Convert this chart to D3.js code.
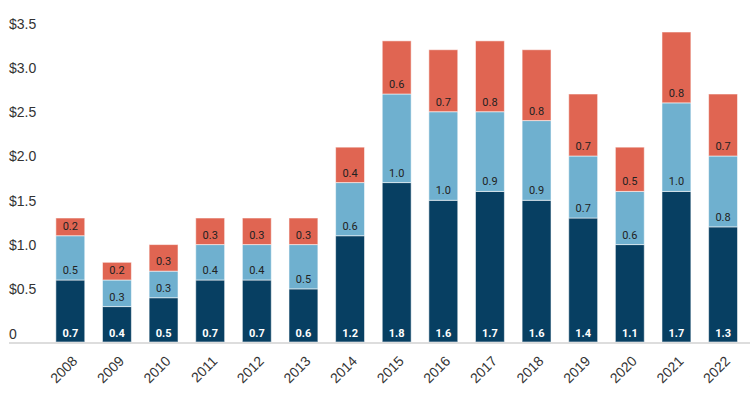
<!DOCTYPE html>
<html>
<head>
<meta charset="utf-8">
<script src="https://cdn.jsdelivr.net/npm/d3@7"></script>
<style>
  body { margin: 0; background: #fff; }
  svg { display: block; font-family: Roboto, "Liberation Sans", sans-serif; }
</style>
</head>
<body>
<div id="chart"></div>
<script>
// data ($ values)
var years = ["2008","2009","2010","2011","2012","2013","2014","2015","2016","2017","2018","2019","2020","2021","2022","2023"];
var seriesA = [0.7, 0.4, 0.5, 0.7, 0.7, 0.6, 1.2, 1.8, 1.6, 1.7, 1.6, 1.4, 1.1, 1.7, 1.3];
var seriesB = [0.5, 0.3, 0.3, 0.4, 0.4, 0.5, 0.6, 1.0, 1.0, 0.9, 0.9, 0.7, 0.6, 1.0, 0.8];
var seriesC = [0.2, 0.2, 0.3, 0.3, 0.3, 0.3, 0.4, 0.6, 0.7, 0.8, 0.8, 0.7, 0.5, 0.8, 0.7];
var yTicks = [0, 0.5, 1.0, 1.5, 2.0, 2.5, 3.0, 3.5];
var colors = ["#073f62", "#6fb0cf", "#e06552"];
var labelColors = ["#fff", "#222", "#222"];

var width = 750, height = 393;

var svg = d3.select("#chart")
  .append("svg")
    .attr("width", width)
    .attr("height", height);

// build rows for the stack
var rows = seriesA.map(function(d, i) {
  return {year: years[i], a: seriesA[i], b: seriesB[i], c: seriesC[i]};
});
var keys = ["a", "b", "c"];
var stacked = d3.stack().keys(keys)(rows);

var x = d3.scaleBand()
  .domain(years)
  .range([47, 793])
  .paddingInner(0.38)
  .paddingOuter(0.19);

var y = d3.scaleLinear()
  .domain([0, 3.5])
  .range([342, 32]);

// Y axis: labels sitting just above their value
var yAxis = svg.append("g")
  .attr("transform", "translate(9,0)")
  .call(d3.axisRight(y)
    .tickValues(yTicks)
    .tickSize(0)
    .tickPadding(0)
    .tickFormat(function(d) { return d === 0 ? "0" : "$" + d.toFixed(1); }));
yAxis.select(".domain").remove();
yAxis.selectAll("text")
  .attr("dy", "-4")
  .attr("text-anchor", "start")
  .style("font-size", "14px")
  .style("fill", "#333");

// stacked bars
var layer = svg.append("g")
  .selectAll("g")
  .data(stacked)
  .enter()
  .append("g")
    .style("fill", function(d, i) { return colors[i]; });

layer.selectAll("rect")
  .data(function(d) { return d; })
  .enter()
  .append("rect")
    .attr("x", function(d) { return x(d.data.year); })
    .attr("y", function(d) { return y(d[1]); })
    .attr("width", x.bandwidth())
    .attr("height", function(d) { return y(d[0]) - y(d[1]); })
    .attr("stroke", "rgba(255,255,255,0.55)")
    .attr("stroke-width", 1);

// value labels near the bottom of each segment
stacked.forEach(function(s, i) {
  svg.append("g")
    .selectAll("text")
    .data(s)
    .enter()
    .append("text")
      .attr("x", function(d) { return x(d.data.year) + x.bandwidth() / 2; })
      .attr("y", function(d) { return y(d[0]) - (i === 0 ? 5 : 6); })
      .attr("text-anchor", "middle")
      .style("font-size", "11px")
      .style("font-weight", i === 0 ? "bold" : "normal")
      .style("fill", labelColors[i])
      .text(function(d) { return d.data[keys[i]].toFixed(1); });
});

// baseline
svg.append("line")
  .attr("x1", 9)
  .attr("x2", width)
  .attr("y1", y(0) + 1)
  .attr("y2", y(0) + 1)
  .attr("stroke", "#ddd")
  .attr("stroke-width", 2);

// X axis, rotated year labels
var xAxis = svg.append("g")
  .attr("transform", "translate(0," + (y(0) + 2) + ")")
  .call(d3.axisBottom(x).tickSize(0).tickPadding(0));
xAxis.select(".domain").remove();
xAxis.selectAll("text")
  .attr("text-anchor", "end")
  .attr("dy", "0")
  .attr("y", 0)
  .attr("transform", "translate(8,18) rotate(-45)")
  .style("font-size", "14px")
  .style("fill", "#333");
</script>
</body>
</html>
